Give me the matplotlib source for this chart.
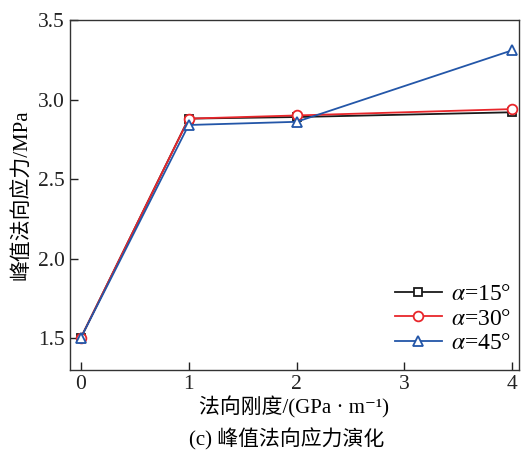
import matplotlib
matplotlib.use('Agg')
import matplotlib.pyplot as plt

plt.rcParams['font.family'] = ['Liberation Serif', 'Noto Sans CJK SC', 'DejaVu Serif']
plt.rcParams['mathtext.fontset'] = 'stix'

x = [0, 1, 2, 4]
s15 = [1.50, 2.88, 2.89, 2.92]
s30 = [1.50, 2.88, 2.90, 2.94]
s45 = [1.50, 2.84, 2.86, 3.31]
labels = [r'$\alpha$=15°', r'$\alpha$=30°', r'$\alpha$=45°']

fig = plt.figure(figsize=(5.22, 4.55), dpi=100)
ax = fig.add_axes([0.134, 0.187, 0.860, 0.769])

ax.plot(x, s15, color='#1a1a1a', marker='s', ms=6, mfc='white', mew=1.3, lw=1.3, label=labels[0])
ax.plot(x, s30, color='#e8262b', marker='o', ms=7, mfc='white', mew=1.3, lw=1.3, label=labels[1])
ax.plot(x, s45, color='#2356a8', marker='^', ms=7.5, mfc='white', mew=1.3, lw=1.3, label=labels[2])

ax.set_xlim(-0.1, 4.06)
ax.set_ylim(1.3, 3.5)
ax.set_xticks([0, 1, 2, 3, 4])
ax.set_yticks([1.5, 2.0, 2.5, 3.0, 3.5])
ax.set_yticklabels(['1.5', '2.0', '2.5', '3.0', '3.5'])
ax.tick_params(direction='in', labelsize=15.5, length=6, width=1.0, colors='#222222')
for sp in ax.spines.values():
    sp.set_linewidth(1.0)
    sp.set_color('#333333')

ax.set_ylabel('峰值法向应力/MPa', fontsize=15)
ax.set_xlabel('法向刚度/(GPa · m⁻¹)', fontsize=15, labelpad=2)
fig.text(0.55, 0.035, '(c) 峰值法向应力演化', ha='center', va='center', fontsize=15)

ax.legend(loc='lower right', frameon=False, fontsize=17, handlelength=2.0,
          bbox_to_anchor=(1.031, -0.015), labelspacing=0.12, handletextpad=0.4)

fig.savefig('out.png', dpi=100)
